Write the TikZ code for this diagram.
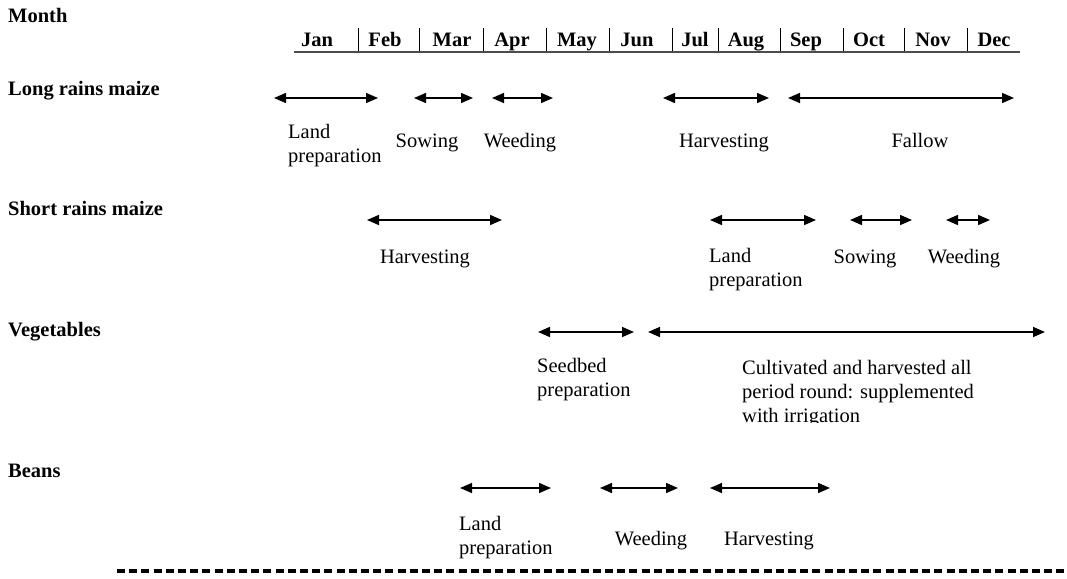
\documentclass[tikz,border=0pt]{standalone}
\usepackage{fontspec}
\setmainfont{Liberation Serif}
\usetikzlibrary{arrows.meta}
\begin{document}
\begin{tikzpicture}[x=1pt,y=-1pt,
  lab/.style={font=\fontsize{20.5}{24}\selectfont\bfseries, inner sep=0pt, anchor=base west},
  mon/.style={font=\fontsize{20.5}{24}\selectfont\bfseries, inner sep=0pt, anchor=base},
  txt/.style={font=\fontsize{20.5}{24}\selectfont, inner sep=0pt, align=left, anchor=base west},
  ctxt/.style={font=\fontsize{20.5}{24}\selectfont, inner sep=0pt, anchor=base},
  span/.style={line width=1.5pt, {Triangle[length=12pt,width=10pt]}-{Triangle[length=12pt,width=10pt]}},
  bar/.style={line width=1pt},
  rule/.style={line width=1.5pt, draw=black!70},
  sep/.style={line width=4pt, dash pattern=on 8pt off 4.2pt}]
\useasboundingbox (0,0) rectangle (1067,578);

% Row labels
\node[lab] (lmonth) at (8,23) {Month};
\node[lab] (llong) at (8,95) {Long rains maize};
\node[lab] (lshort) at (8,215) {Short rains maize};
\node[lab] (lveg) at (8,336) {Vegetables};
\node[lab] (lbeans) at (8,477) {Beans};

% Month header
\coordinate (ruleL) at (294,52);
\coordinate (ruleR) at (1020,52);
\draw[rule] (ruleL) -- (ruleR);
\foreach \m/\x in {Jan/317,Feb/385,Mar/452,Apr/512,May/577,Jun/637,Jul/695,Aug/746,Sep/806,Oct/869,Nov/933,Dec/994}
  \node[mon] (m\m) at (\x,46.5) {\m};
\foreach \x [count=\i] in {358,419,483,546,609,672,718,780,843,904,967}{
  \coordinate (bt\i) at (\x,28);
  \coordinate (bb\i) at (\x,51);
  \draw[bar] (bt\i) -- (bb\i);
}

% Long rains maize
\coordinate (a1) at (274,98);  \coordinate (b1) at (378,98);
\coordinate (a2) at (414,98);  \coordinate (b2) at (473,98);
\coordinate (a3) at (492,98);  \coordinate (b3) at (553,98);
\coordinate (a4) at (663,98);  \coordinate (b4) at (769,98);
\coordinate (a5) at (788,98);  \coordinate (b5) at (1014,98);
\draw[span] (a1) -- (b1);
\draw[span] (a2) -- (b2);
\draw[span] (a3) -- (b3);
\draw[span] (a4) -- (b4);
\draw[span] (a5) -- (b5);
\node[txt] (t1) at (288,162) {Land\\preparation};
\node[ctxt] (t2) at (427,147) {Sowing};
\node[ctxt] (t3) at (520,147) {Weeding};
\node[ctxt] (t4) at (724,147) {Harvesting};
\node[ctxt] (t5) at (920,147) {Fallow};

% Short rains maize
\coordinate (c1) at (367,220);  \coordinate (d1) at (502,220);
\coordinate (c2) at (710,220);  \coordinate (d2) at (816,220);
\coordinate (c3) at (850,220);  \coordinate (d3) at (912,220);
\coordinate (c4) at (946,220);  \coordinate (d4) at (990,220);
\draw[span] (c1) -- (d1);
\draw[span] (c2) -- (d2);
\draw[span] (c3) -- (d3);
\draw[span] (c4) -- (d4);
\node[ctxt] (s1) at (425,263) {Harvesting};
\node[txt] (s2) at (709,286) {Land\\preparation};
\node[ctxt] (s3) at (865,263) {Sowing};
\node[ctxt] (s4) at (964,263) {Weeding};

% Vegetables
\coordinate (e1) at (538,332);  \coordinate (f1) at (634,332);
\coordinate (e2) at (648,332);  \coordinate (f2) at (1045,332);
\draw[span] (e1) -- (f1);
\draw[span] (e2) -- (f2);
\node[txt] (v1) at (537,396) {Seedbed\\preparation};
\begin{scope}
  \clip (700,340) rectangle (1067,422.5);
  \node[txt] (v2) at (742,422) {Cultivated and harvested all\\period round: supplemented\\with irrigation};
\end{scope}

% Beans
\coordinate (g1) at (460,488);  \coordinate (h1) at (551,488);
\coordinate (g2) at (600,488);  \coordinate (h2) at (678,488);
\coordinate (g3) at (710,488);  \coordinate (h3) at (830,488);
\draw[span] (g1) -- (h1);
\draw[span] (g2) -- (h2);
\draw[span] (g3) -- (h3);
\node[txt] (n1) at (459,554) {Land\\preparation};
\node[ctxt] (n2) at (651,545) {Weeding};
\node[ctxt] (n3) at (769,545) {Harvesting};

% Bottom dashed separator
\coordinate (dl) at (117,571);
\coordinate (dr) at (1067,571);
\draw[sep] (dl) -- (dr);
\end{tikzpicture}
\end{document}
